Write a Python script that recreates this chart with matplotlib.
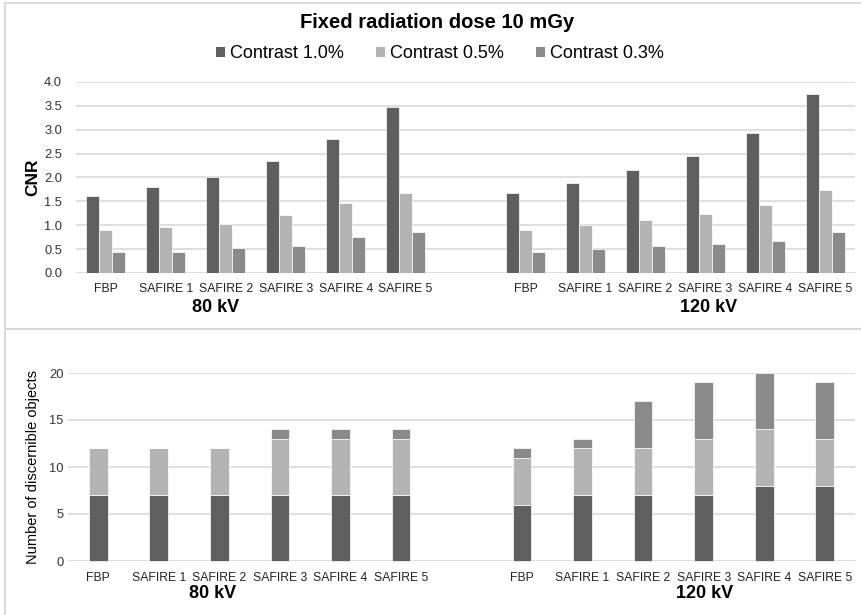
import matplotlib
matplotlib.use("Agg")
import matplotlib.pyplot as plt
from matplotlib.patches import Patch
from matplotlib.lines import Line2D
import numpy as np

plt.rcParams['font.family'] = ['Liberation Sans', 'DejaVu Sans']

methods = ["FBP", "SAFIRE 1", "SAFIRE 2", "SAFIRE 3", "SAFIRE 4", "SAFIRE 5"]
groups = ["80 kV", "120 kV"]
series = ["Contrast 1.0%", "Contrast 0.5%", "Contrast 0.3%"]
colors = ["#5f5f5f", "#b3b3b3", "#8a8a8a"]

# CNR values (top chart)
cnr_80_c10 = [1.61, 1.81, 2.02, 2.34, 2.81, 3.47]
cnr_80_c05 = [0.90, 0.96, 1.03, 1.21, 1.46, 1.67]
cnr_80_c03 = [0.43, 0.43, 0.52, 0.57, 0.75, 0.85]
cnr_120_c10 = [1.67, 1.88, 2.16, 2.46, 2.93, 3.74]
cnr_120_c05 = [0.90, 1.01, 1.12, 1.24, 1.42, 1.74]
cnr_120_c03 = [0.45, 0.50, 0.57, 0.61, 0.68, 0.85]

# Number of discernible objects (bottom chart, stacked)
obj_80_c10 = [7, 7, 7, 7, 7, 7]
obj_80_c05 = [5, 5, 5, 6, 6, 6]
obj_80_c03 = [0, 0, 0, 1, 1, 1]
obj_120_c10 = [6, 7, 7, 7, 8, 8]
obj_120_c05 = [5, 5, 5, 6, 6, 5]
obj_120_c03 = [1, 1, 5, 6, 6, 6]

W, H = 862, 615
fig = plt.figure(figsize=(W / 100, H / 100), dpi=100)

def ax_rect(left, top, right, bottom):
    return [left / W, 1 - bottom / H, (right - left) / W, (bottom - top) / H]

def fx(x):
    return x / W

def fy(y):
    return 1 - y / H

pos80 = np.arange(6)
pos120 = np.arange(6) + 7
allpos = np.concatenate([pos80, pos120])
grid_c = "#d9d9d9"
tick_fs = 8.8

# ---------- top chart ----------
ax1 = fig.add_axes(ax_rect(76, 82, 855, 273))
bw = 0.217
top_data = [(cnr_80_c10, cnr_120_c10), (cnr_80_c05, cnr_120_c05), (cnr_80_c03, cnr_120_c03)]
for i, (d80, d120) in enumerate(top_data):
    off = (i - 1) * bw
    ax1.bar(pos80 + off, d80, width=bw, color=colors[i], edgecolor="white", linewidth=0.5, zorder=3)
    ax1.bar(pos120 + off, d120, width=bw, color=colors[i], edgecolor="white", linewidth=0.5, zorder=3)
ax1.set_xlim(-0.5, 12.5)
ax1.set_ylim(0, 4.0)
ax1.set_yticks(np.arange(0, 4.01, 0.5))
ax1.set_yticklabels([f"{v:.1f}" for v in np.arange(0, 4.01, 0.5)], fontsize=9.3, color="#333333")
ax1.set_xticks(allpos)
ax1.set_xticklabels(methods + methods, fontsize=tick_fs, color="#222222")
ax1.tick_params(axis="both", length=0)
ax1.tick_params(axis="y", pad=10)
ax1.tick_params(axis="x", pad=7)
ax1.grid(axis="y", color=grid_c, linewidth=1.2, zorder=0)
for s in ax1.spines.values():
    s.set_visible(False)
ax1.set_axisbelow(True)

fig.text(fx(33), fy(177), "CNR", rotation=90, fontsize=12.5, fontweight="bold", ha="center", va="center")
fig.text(fx(216), fy(308), groups[0], fontsize=13, fontweight="bold", ha="center", va="center")
fig.text(fx(709), fy(307), groups[1], fontsize=13, fontweight="bold", ha="center", va="center")
fig.text(fx(437), fy(23), "Fixed radiation dose 10 mGy", fontsize=14.5, fontweight="bold", ha="center", va="center")

handles = [Patch(facecolor=c, edgecolor="none") for c in colors]
fig.legend(handles, series, loc="center", bbox_to_anchor=(fx(440), fy(54)), ncol=3, frameon=False,
           fontsize=13, handlelength=0.5, handleheight=0.5, handletextpad=0.25, columnspacing=1.8,
           borderpad=0)

# ---------- bottom chart ----------
ax2 = fig.add_axes(ax_rect(68, 373, 855, 561))
bw2 = 0.31
bot_data = [(obj_80_c10, obj_120_c10), (obj_80_c05, obj_120_c05), (obj_80_c03, obj_120_c03)]
base80 = np.zeros(6)
base120 = np.zeros(6)
for i, (d80, d120) in enumerate(bot_data):
    ax2.bar(pos80, d80, bottom=base80, width=bw2, color=colors[i], edgecolor="white", linewidth=0.5, zorder=3)
    ax2.bar(pos120, d120, bottom=base120, width=bw2, color=colors[i], edgecolor="white", linewidth=0.5, zorder=3)
    base80 = base80 + np.array(d80)
    base120 = base120 + np.array(d120)
ax2.set_xlim(-0.5, 12.5)
ax2.set_ylim(0, 20)
ax2.set_yticks([0, 5, 10, 15, 20])
ax2.set_yticklabels(["0", "5", "10", "15", "20"], fontsize=9.3, color="#333333")
ax2.set_xticks(allpos)
ax2.set_xticklabels(methods + methods, fontsize=tick_fs, color="#222222")
ax2.tick_params(axis="both", length=0)
ax2.tick_params(axis="y", pad=3)
ax2.tick_params(axis="x", pad=8)
ax2.grid(axis="y", color=grid_c, linewidth=1.2, zorder=0)
for s in ax2.spines.values():
    s.set_visible(False)
ax2.set_axisbelow(True)
for b in ax2.patches:
    b.set_clip_on(False)

fig.text(fx(33), fy(467), "Number of discernible objects", rotation=90, fontsize=10.5, ha="center", va="center")
fig.text(fx(213), fy(594), groups[0], fontsize=13, fontweight="bold", ha="center", va="center")
fig.text(fx(705), fy(593), groups[1], fontsize=13, fontweight="bold", ha="center", va="center")

# panel borders
border_c = "#d9d9d9"
fig.add_artist(Line2D([fx(5), fx(5)], [fy(3), fy(615)], color=border_c, linewidth=1.5))
fig.add_artist(Line2D([fx(5), fx(862)], [fy(3), fy(3)], color=border_c, linewidth=1.5))
fig.add_artist(Line2D([fx(5), fx(862)], [fy(329), fy(329)], color=border_c, linewidth=1.5))

fig.savefig("out.png", dpi=100)
